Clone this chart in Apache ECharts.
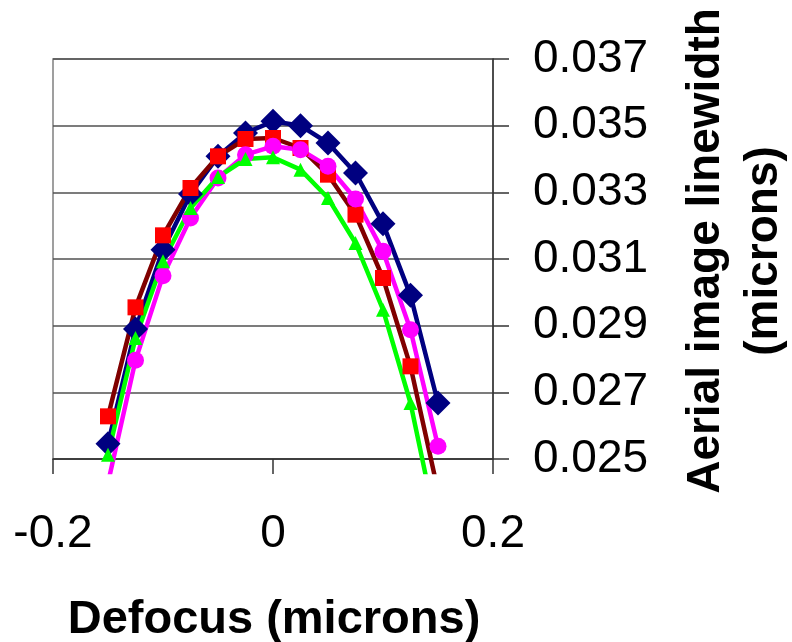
<!DOCTYPE html>
<html>
<head>
<meta charset="utf-8">
<script src="https://cdn.jsdelivr.net/npm/echarts@6/dist/echarts.min.js"></script>
<style>
html,body{margin:0;padding:0;background:#fff;}
#chart{width:792px;height:642px;}
</style>
</head>
<body>
<div id="chart"></div>
<script>
// ---- data ----
const defocus = [-0.15, -0.125, -0.1, -0.075, -0.05, -0.025, 0, 0.025, 0.05, 0.075, 0.1, 0.125, 0.15];
const navySeries    = [0.02546, 0.02890, 0.03128, 0.03295, 0.03408, 0.03478, 0.03513, 0.03500, 0.03448, 0.03358, 0.03206, 0.02991, 0.02668];
const redSeries     = [0.02628, 0.02955, 0.03171, 0.03313, 0.03408, 0.03460, 0.03463, 0.03433, 0.03353, 0.03233, 0.03043, 0.02778, 0.02404];
const magentaSeries = [0.02428, 0.02796, 0.03050, 0.03223, 0.03343, 0.03413, 0.03438, 0.03428, 0.03378, 0.03280, 0.03123, 0.02888, 0.02538];
const greenSeries   = [0.02513, 0.02863, 0.03093, 0.03253, 0.03346, 0.03400, 0.03405, 0.03368, 0.03283, 0.03148, 0.02948, 0.02668, 0.02275];

const xTickLabels = ['-0.2', '0', '0.2'];
const yTickLabels = ['0.025', '0.027', '0.029', '0.031', '0.033', '0.035', '0.037'];
const xTitle = 'Defocus (microns)';
const yTitle = 'Aerial image linewidth\n(microns)';

// ---- chart ----
const FONT = '"Liberation Sans", Arial, sans-serif';
const xMin = parseFloat(xTickLabels[0]), xMax = parseFloat(xTickLabels[xTickLabels.length - 1]);
const yMin = parseFloat(yTickLabels[0]), yMax = parseFloat(yTickLabels[yTickLabels.length - 1]);

const G = { left: 53, top: 59, width: 440, height: 400 };
const extraBelow = 13; // Excel lets the lines run a little under the axis
const yMinData = yMin - (yMax - yMin) * extraBelow / G.height;

function pick(labels, v) {
  let best = labels[0], d = Infinity;
  labels.forEach(l => { const dd = Math.abs(parseFloat(l) - v); if (dd < d) { d = dd; best = l; } });
  return best;
}
function pairs(ys) { return defocus.map((x, i) => [x, ys[i]]); }

const chart = echarts.init(document.getElementById('chart'), null, { renderer: 'canvas' });

const mk = (name, ys, lineColor, markColor, symbol, size) => ({
  name, type: 'line', xAxisIndex: 1, yAxisIndex: 1,
  data: pairs(ys), clip: true, showAllSymbol: true,
  symbol, symbolSize: size,
  lineStyle: { color: lineColor, width: 4.5 },
  itemStyle: { color: markColor, borderWidth: 0 },
  emphasis: { disabled: true }
});

chart.setOption({
  animation: false,
  backgroundColor: '#ffffff',
  grid: [
    { left: G.left, top: G.top, width: G.width, height: G.height, show: true,
      borderColor: '#808080', borderWidth: 1.5, backgroundColor: 'transparent' },
    { left: G.left, top: G.top, width: G.width, height: G.height + extraBelow, show: false }
  ],
  xAxis: [
    { type: 'value', gridIndex: 0, min: xMin, max: xMax, interval: 0.2, position: 'bottom',
      axisLine: { show: true, onZero: false, lineStyle: { color: '#333', width: 1.5 } },
      axisTick: { show: true, inside: false, length: 15, lineStyle: { color: '#333', width: 1.5 } },
      splitLine: { show: false },
      axisLabel: { show: true, margin: 52, fontSize: 46, fontFamily: FONT, color: '#000',
        formatter: v => pick(xTickLabels, v) } },
    { type: 'value', gridIndex: 1, min: xMin, max: xMax, show: false }
  ],
  yAxis: [
    { type: 'value', gridIndex: 0, min: yMin, max: yMax, interval: 0.002, position: 'right',
      axisLine: { show: true, onZero: false, lineStyle: { color: '#333', width: 1.5 } },
      axisTick: { show: true, inside: false, length: 16, lineStyle: { color: '#333', width: 1.5 } },
      splitLine: { show: true, lineStyle: { color: '#505050', width: 1.5 } },
      axisLabel: { show: true, margin: 40, fontSize: 46, fontFamily: FONT, color: '#000',
        formatter: v => pick(yTickLabels, v) } },
    { type: 'value', gridIndex: 1, min: yMinData, max: yMax, show: false, scale: true }
  ],
  graphic: [
    { type: 'text', x: 274, y: 620, silent: true,
      style: { text: xTitle, fontSize: 47, fontWeight: 'bold', fontFamily: FONT, fill: '#000',
        align: 'center', verticalAlign: 'middle' } },
    { type: 'text', x: 735, y: 251, rotation: Math.PI / 2, silent: true,
      style: { text: yTitle, fontSize: 46, fontWeight: 'bold', fontFamily: FONT, fill: '#000',
        align: 'center', verticalAlign: 'middle', lineHeight: 58 } }
  ],
  series: [
    mk('Series 1', navySeries, '#000080', '#000080', 'diamond', 25),
    mk('Series 2', redSeries, '#800000', '#ff0000', 'rect', 16),
    mk('Series 3', magentaSeries, '#ff00ff', '#ff00ff', 'circle', 17),
    mk('Series 4', greenSeries, '#00ff00', '#00ff00', 'triangle', 14)
  ]
});
</script>
</body>
</html>
